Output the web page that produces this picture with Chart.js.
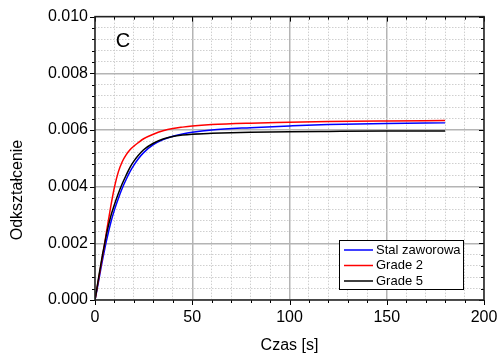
<!DOCTYPE html>
<html>
<head>
<meta charset="utf-8">
<script src="https://cdn.jsdelivr.net/npm/chart.js@4.4.0/dist/chart.umd.min.js"></script>
<style>
  html, body { margin: 0; padding: 0; background: #fff; }
</style>
</head>
<body>
<canvas id="chart" width="500" height="359"></canvas>
<script>
// czas [s]
const times = [0, 1, 2, 3, 4, 5, 6, 8, 10, 12, 14, 16, 18, 20, 22, 25, 30, 35, 40, 45, 50, 60, 80, 100, 120, 150, 180];

// odkształcenie
const stalZaworowa = [0, 0.00035, 0.00072, 0.0011, 0.00146, 0.0018, 0.00212, 0.0027, 0.00318, 0.00358, 0.00394, 0.00425, 0.00453, 0.00476, 0.00496, 0.0052, 0.00548, 0.00566, 0.00578, 0.00586, 0.00592, 0.006, 0.00608, 0.00614, 0.00619, 0.00623, 0.00625];
const grade2 = [0, 0.0004, 0.0008, 0.0012, 0.0016, 0.002, 0.00245, 0.00326, 0.00398, 0.00452, 0.00488, 0.00512, 0.0053, 0.00543, 0.00554, 0.00569, 0.00585, 0.00597, 0.00605, 0.0061, 0.00614, 0.00619, 0.00624, 0.00627, 0.0063, 0.00632, 0.00633];
const grade5 = [0, 0.00042, 0.00085, 0.00126, 0.00165, 0.002, 0.00235, 0.00293, 0.00337, 0.00376, 0.0041, 0.0044, 0.00468, 0.0049, 0.00508, 0.0053, 0.00553, 0.00568, 0.00577, 0.00582, 0.00585, 0.00588, 0.00592, 0.00594, 0.00595, 0.00596, 0.00596];

const seriesLabels = ['Stal zaworowa', 'Grade 2', 'Grade 5'];
const seriesColors = ['#0000ff', '#ff0000', '#000000'];
const panelLabel = 'C';
const xTitle = 'Czas [s]';
const yTitle = 'Odkształcenie';

const FONT = "'Liberation Sans', Arial, sans-serif";
Chart.defaults.font.family = FONT;
Chart.defaults.font.size = 16;
Chart.defaults.color = '#000';

const toPoints = (vals) => vals.map((v, i) => ({ x: times[i], y: v }));

const isMajorX = (v) => v % 50 === 0;
const isMajorY = (v) => Math.abs(v / 0.002 - Math.round(v / 0.002)) < 1e-6;

// frame, tick marks, panel letter, y title, legend inside the plot
const decorations = {
    id: 'decorations',
    afterDraw(chart) {
        const { ctx, chartArea: a, scales } = chart;
        ctx.save();

        // tick marks on all four sides
        ctx.strokeStyle = '#000';
        ctx.lineWidth = 1;
        scales.x.ticks.forEach((t) => {
            const px = Math.round(scales.x.getPixelForValue(t.value)) + 0.5;
            const len = isMajorX(t.value) ? 5 : 3;
            ctx.beginPath();
            ctx.moveTo(px, a.bottom);
            ctx.lineTo(px, a.bottom + len);
            ctx.moveTo(px, a.top);
            ctx.lineTo(px, a.top + len);
            ctx.stroke();
        });
        scales.y.ticks.forEach((t) => {
            const py = Math.round(scales.y.getPixelForValue(t.value)) + 0.5;
            const len = isMajorY(t.value) ? 5 : 3;
            ctx.beginPath();
            ctx.moveTo(a.left - len, py);
            ctx.lineTo(a.left, py);
            ctx.moveTo(a.right - len, py);
            ctx.lineTo(a.right, py);
            ctx.stroke();
        });

        // frame
        ctx.lineWidth = 1.5;
        ctx.strokeStyle = '#222';
        ctx.strokeRect(a.left, a.top, a.right - a.left, a.bottom - a.top);

        // panel letter
        ctx.fillStyle = '#000';
        ctx.font = '20px ' + FONT;
        ctx.textAlign = 'center';
        ctx.textBaseline = 'middle';
        ctx.fillText(panelLabel, a.left + 28, a.top + 25);

        // y title
        ctx.save();
        ctx.translate(18, 190);
        ctx.rotate(-Math.PI / 2);
        ctx.font = '16px ' + FONT;
        ctx.fillText(yTitle, 0, 0);
        ctx.restore();

        // legend
        const w = 124, h = 49;
        const x0 = a.right - 21 - w;
        const y0 = a.bottom - 11 - h;
        ctx.fillStyle = '#fff';
        ctx.fillRect(x0, y0, w, h);
        ctx.lineWidth = 1;
        ctx.strokeStyle = '#000';
        ctx.strokeRect(x0 + 0.5, y0 + 0.5, w, h);
        ctx.font = '13px ' + FONT;
        ctx.textAlign = 'left';
        chart.data.datasets.forEach((ds, i) => {
            const ry = y0 + 10 + i * 15.5;
            ctx.strokeStyle = ds.borderColor;
            ctx.lineWidth = 1.5;
            ctx.beginPath();
            ctx.moveTo(x0 + 5, ry);
            ctx.lineTo(x0 + 34, ry);
            ctx.stroke();
            ctx.fillStyle = '#000';
            ctx.fillText(ds.label, x0 + 37, ry);
        });

        ctx.restore();
    }
};

const ctx = document.getElementById('chart').getContext('2d');

const chart = new Chart(ctx, {
    type: 'line',
    data: {
        datasets: [
            {
                label: seriesLabels[0],
                data: toPoints(stalZaworowa),
                borderColor: seriesColors[0],
                order: 2,
            },
            {
                label: seriesLabels[1],
                data: toPoints(grade2),
                borderColor: seriesColors[1],
                order: 1,
            },
            {
                label: seriesLabels[2],
                data: toPoints(grade5),
                borderColor: seriesColors[2],
                order: 0,
            },
        ],
    },
    options: {
        responsive: false,
        animation: false,
        events: [],
        elements: {
            point: { radius: 0 },
            line: { borderWidth: 1.5, cubicInterpolationMode: 'monotone', fill: false },
        },
        layout: { padding: { top: 15, right: 16, left: 0, bottom: 0 } },
        plugins: {
            legend: { display: false },
            tooltip: { enabled: false },
        },
        scales: {
            x: {
                type: 'linear',
                min: 0,
                max: 200,
                afterFit: (s) => {
                    s.height = 59;
                    s.paddingLeft = 0;
                    s.paddingRight = 0;
                },
                ticks: {
                    stepSize: 10,
                    autoSkip: false,
                    maxRotation: 0,
                    padding: 8,
                    callback: (v) => (isMajorX(v) ? String(v) : ''),
                },
                grid: {
                    drawTicks: false,
                    color: (c) => (c.tick && isMajorX(c.tick.value) ? '#b4b4b4' : '#cfcfcf'),
                    lineWidth: (c) => (c.tick && isMajorX(c.tick.value) ? 1.5 : 1),
                },
                border: {
                    display: false,
                    dash: (c) => (c.tick && !isMajorX(c.tick.value) ? [1.5, 1.5] : []),
                },
                title: {
                    display: true,
                    text: xTitle,
                    font: { size: 16 },
                    padding: { top: 0, bottom: 4 },
                },
            },
            y: {
                type: 'linear',
                min: 0,
                max: 0.01,
                afterFit: (s) => { s.width = 95; },
                ticks: {
                    stepSize: 0.0004,
                    autoSkip: false,
                    padding: 7,
                    callback: (v) => (isMajorY(v) ? v.toFixed(3) : ''),
                },
                grid: {
                    drawTicks: false,
                    color: (c) => (c.tick && isMajorY(c.tick.value) ? '#b4b4b4' : '#cfcfcf'),
                    lineWidth: (c) => (c.tick && isMajorY(c.tick.value) ? 1.5 : 1),
                },
                border: {
                    display: false,
                    dash: (c) => (c.tick && !isMajorY(c.tick.value) ? [1.5, 1.5] : []),
                },
            },
        },
    },
    plugins: [decorations],
});
</script>
</body>
</html>
